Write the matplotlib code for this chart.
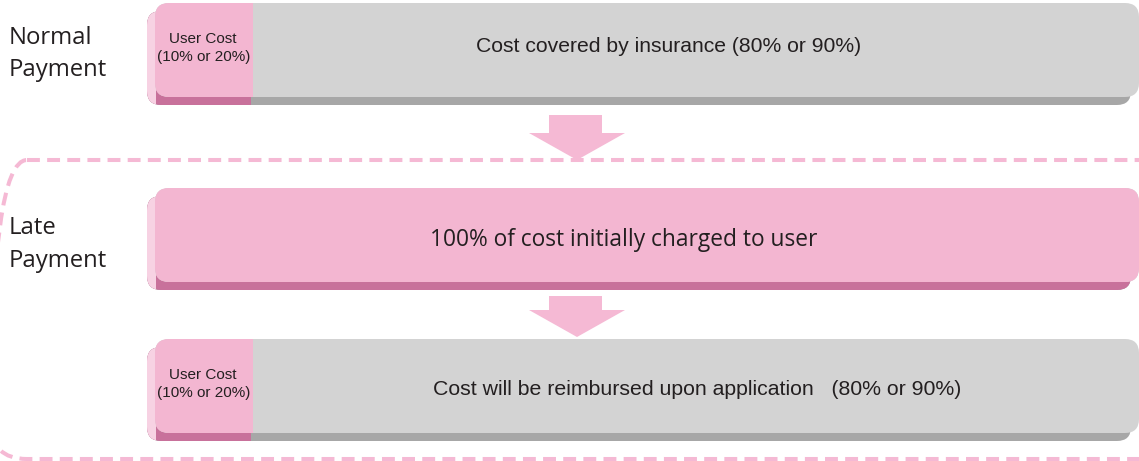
import matplotlib.pyplot as plt
from matplotlib.patches import FancyBboxPatch, Rectangle, Polygon

# rows of the diagram
row_labels = ["Normal\nPayment", "Late\nPayment"]
bar_texts = ["Cost covered by insurance (80% or 90%)",
             "100% of cost initially charged to user",
             "Cost will be reimbursed upon application   (80% or 90%)"]
user_label = "User Cost\n(10% or 20%)"
user_share = [0.10, 1.00, 0.10]   # share of the bar paid by the user

PINK = "#f3b6d1"
PINK_LIGHT = "#f7d2e3"
PINK_DARK = "#c8719b"
GRAY = "#d3d3d3"
GRAY_DARK = "#a7a7a7"
DASH = "#f5b9d4"
TXT = "#231f20"

W, H = 1139, 461
fig = plt.figure(figsize=(W / 100, H / 100), dpi=100)
ax = fig.add_axes([0, 0, 1, 1])
ax.set_xlim(0, W)
ax.set_ylim(H, 0)
ax.axis("off")

bar_x0, bar_x1 = 155, 1139
bar_tops = [3, 188, 339]
bar_h = 94
depth = 8


def slab(top, share):
    # back (extruded) part
    back = FancyBboxPatch((bar_x0 - depth, top + depth), bar_x1 - bar_x0, bar_h,
                          boxstyle="round,pad=0,rounding_size=14",
                          fc=GRAY_DARK, ec="none", zorder=1)
    ax.add_patch(back)
    split = bar_x0 + share * (bar_x1 - bar_x0)
    r = Rectangle((0, top), split - 2, bar_h + 2 * depth, fc=PINK_DARK, ec="none", zorder=1.1)
    ax.add_patch(r)
    r.set_clip_path(back)
    side = Rectangle((0, top), bar_x0 - depth + 9, bar_h + depth - 1, fc=PINK_LIGHT, ec="none", zorder=1.2)
    ax.add_patch(side)
    side.set_clip_path(back)
    # front face
    face = FancyBboxPatch((bar_x0, top), bar_x1 - bar_x0, bar_h,
                          boxstyle="round,pad=0,rounding_size=14",
                          fc=GRAY, ec="none", zorder=2)
    ax.add_patch(face)
    p = Rectangle((0, top - 2), split, bar_h + 4, fc=PINK, ec="none", zorder=2.1)
    ax.add_patch(p)
    p.set_clip_path(face)
    return split


def arrow(y0, y1, y2):
    pts = [(549, y0), (602, y0), (602, y1), (625, y1), (577, y2),
           (529, y1), (549, y1)]
    ax.add_patch(Polygon(pts, closed=True, fc=DASH, ec="none", zorder=3))


# dashed frame around the late payment rows
frame = FancyBboxPatch((-9, 160), 1200, 299, boxstyle="round,pad=0,rounding_size=36",
                       fc="none", ec=DASH, lw=2.9, linestyle=(0, (3.2, 1.8)), zorder=0.5)
ax.add_patch(frame)

for i, top in enumerate(bar_tops):
    split = slab(top, user_share[i])
    cy = top + bar_h / 2
    if user_share[i] < 1:
        ax.text((bar_x0 + split) / 2 - 1, cy - 2, user_label, ha="center", va="center",
                fontsize=11, color=TXT, family="Liberation Sans",
                linespacing=1.35, zorder=4)

ax.text(669, 47, bar_texts[0], ha="center", va="center", fontsize=15.2,
        color=TXT, family="Liberation Sans", zorder=4)
ax.text(624, 240, bar_texts[1], ha="center", va="center", fontsize=16.4,
        color=TXT, family="Open Sans", zorder=4)
ax.text(697, 389, bar_texts[2], ha="center", va="center", fontsize=15.3,
        color=TXT, family="Liberation Sans", zorder=4)

arrow(115, 133, 160)
arrow(296, 310, 337)

ax.text(9, 54, row_labels[0], ha="left", va="center", fontsize=17.2,
        color=TXT, family="Open Sans", linespacing=1.5)
ax.text(9, 244, row_labels[1], ha="left", va="center", fontsize=17.2,
        color=TXT, family="Open Sans", linespacing=1.5)

fig.savefig("out.png", dpi=100)
